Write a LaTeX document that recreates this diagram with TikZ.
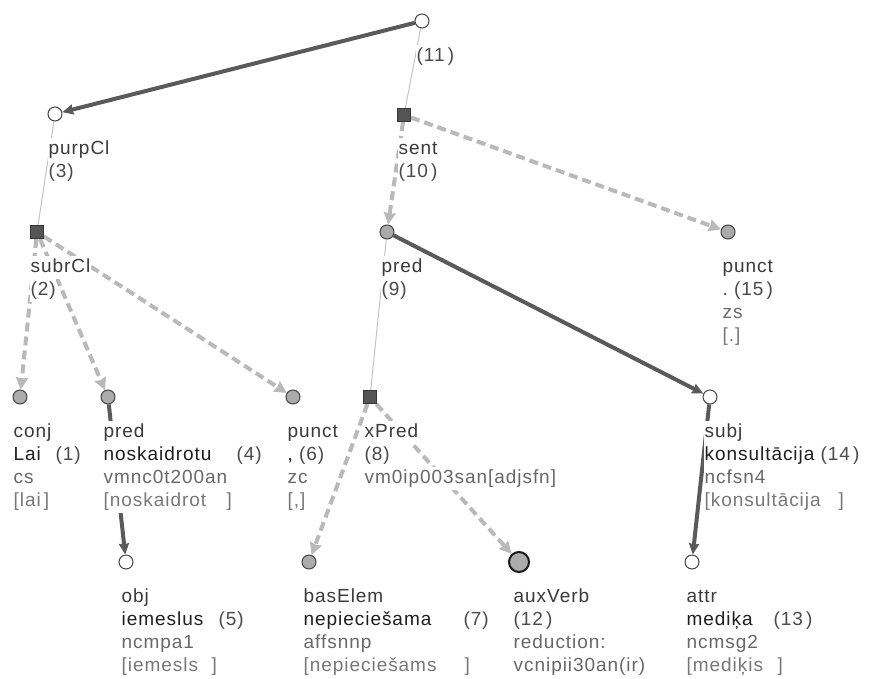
\documentclass[tikz,border=0pt]{standalone}
\usepackage{fontspec}
\setmainfont{Liberation Sans}[LetterSpace=5]
\usetikzlibrary{arrows.meta,backgrounds}
\definecolor{roleC}{HTML}{3A3A3A}
\definecolor{wordC}{HTML}{1E1E1E}
\definecolor{numC}{HTML}{4A4A4A}
\definecolor{tagC}{HTML}{686868}
\definecolor{lemC}{HTML}{787878}
\definecolor{nodeC}{HTML}{444444}
\definecolor{grayF}{HTML}{ABABAB}
\definecolor{sqF}{HTML}{555555}
\definecolor{darkE}{HTML}{5A5A5A}
\definecolor{lightE}{HTML}{B9B9B9}
\definecolor{thinE}{HTML}{C4C4C4}
\begin{document}
\begin{tikzpicture}[x=1pt,y=-1pt,
  lbl/.style={anchor=base west, fill=white, inner xsep=0.5pt, inner ysep=0pt,
    text height=16pt, text depth=7pt, font=\fontsize{19}{23}\selectfont},
  role/.style={lbl,text=roleC},
  word/.style={lbl,text=wordC},
  num/.style={lbl,text=numC},
  tag/.style={lbl,text=tagC},
  lem/.style={lbl,text=lemC},
  wnode/.style={circle,draw=nodeC,fill=white,minimum size=14pt,inner sep=0pt,line width=1pt},
  gnode/.style={wnode,fill=grayF},
  bignode/.style={circle,draw=black!90,fill=grayF,minimum size=20pt,inner sep=0pt,line width=2pt},
  snode/.style={rectangle,draw=nodeC!80!black,fill=sqF,minimum size=13pt,inner sep=0pt,line width=1pt},
  solidarrow/.style={draw=darkE,line width=4pt,-{Stealth[length=11pt,width=10pt,inset=1pt]}},
  dasharrow/.style={draw=lightE,line width=4pt,dash pattern=on 9pt off 5pt,-{Stealth[length=12pt,width=12pt,inset=1pt]}},
  plainedge/.style={draw=thinE,line width=1pt}
]
\path[use as bounding box] (0,0) rectangle (886,678);

% tree nodes
\node[wnode] (n11) at (422,21) {};
\node[wnode] (n3) at (55,114) {};
\node[snode] (n10) at (404,115) {};
\node[snode] (n2) at (37,232) {};
\node[gnode] (n9) at (387,232) {};
\node[gnode] (n15) at (728,232) {};
\node[gnode] (n1) at (20,397) {};
\node[gnode] (n4) at (108,397) {};
\node[gnode] (n6) at (293,397) {};
\node[snode] (n8) at (370,397) {};
\node[wnode] (n14) at (710,397) {};
\node[wnode] (n5) at (126,562) {};
\node[gnode] (n7) at (309,562) {};
\node[bignode] (n12) at (519,562) {};
\node[wnode] (n13) at (692,562) {};

% connectors
\begin{pgfonlayer}{background}
\draw[solidarrow] (n11) -- (n3);
\draw[plainedge] (n11) -- (n10);
\draw[dasharrow] (n10) -- (n9);
\draw[dasharrow] (n10) -- (n15);
\draw[plainedge] (n3) -- (n2);
\draw[dasharrow] (n2) -- (n1);
\draw[dasharrow] (n2) -- (n4);
\draw[dasharrow] (n2) -- (n6);
\draw[solidarrow] (n9) -- (n14);
\draw[plainedge] (n9) -- (n8);
\draw[dasharrow] (n8) -- (n7);
\draw[dasharrow] (n8) -- (n12);
\draw[solidarrow] (n4) -- (n5);
\draw[solidarrow] (n14) -- (n13);
\end{pgfonlayer}

% labels
\node[num] (t11a) at (416,61) {(11\,)};

\node[role] (t3a) at (48,154) {purpCl};
\node[num]  (t3b) at (48,177) {(3)};

\node[role] (t10a) at (398,154) {sent};
\node[num]  (t10b) at (398,177) {(10\,)};

\node[role] (t2a) at (30,272) {subrCl};
\node[num]  (t2b) at (30,295) {(2)};

\node[role] (t9a) at (381,272) {pred};
\node[num]  (t9b) at (381,295) {(9)};

\node[role] (t15a) at (722,272) {punct};
\node[num]  (t15b) at (722,295) {.\ (15\,)};
\node[tag]  (t15c) at (722,318) {zs};
\node[lem]  (t15d) at (722,341) {[.]};

\node[role] (t1a) at (13,437) {conj};
\node[word] (t1b) at (13,460) {\makebox[42pt][l]{Lai}\color{numC}(1)};
\node[tag]  (t1c) at (13,483) {cs};
\node[lem]  (t1d) at (13,506) {[lai\,]};

\node[role] (t4a) at (103,437) {pred};
\node[word] (t4b) at (103,460) {\makebox[133pt][l]{noskaidrotu}\color{numC}(4)};
\node[tag]  (t4c) at (103,483) {vmnc0t200an};
\node[lem]  (t4d) at (103,506) {\makebox[123pt][l]{[noskaidrot}]};

\node[role] (t6a) at (287,437) {punct};
\node[word] (t6b) at (287,460) {,\ \color{numC}(6)};
\node[tag]  (t6c) at (287,483) {zc};
\node[lem]  (t6d) at (287,506) {[,]};

\node[role] (t8a) at (364,437) {xPred};
\node[num]  (t8b) at (364,460) {(8)};
\node[tag]  (t8c) at (364,483) {vm0ip003san[adjsfn]};

\node[role] (t14a) at (704,437) {subj};
\node[word] (t14b) at (704,460) {\makebox[116pt][l]{konsultācija}\color{numC}(14\,)};
\node[tag]  (t14c) at (704,483) {ncfsn4};
\node[lem]  (t14d) at (704,506) {\makebox[134pt][l]{[konsultācija}]};

\node[role] (t5a) at (121,602) {obj};
\node[word] (t5b) at (121,625) {\makebox[97pt][l]{iemeslus}\color{numC}(5)};
\node[tag]  (t5c) at (121,648) {ncmpa1};
\node[lem]  (t5d) at (121,671) {\makebox[90pt][l]{[iemesls}]};

\node[role] (t7a) at (303,602) {basElem};
\node[word] (t7b) at (303,625) {\makebox[160pt][l]{nepieciešama}\color{numC}(7)};
\node[tag]  (t7c) at (303,648) {affsnnp};
\node[lem]  (t7d) at (303,671) {\makebox[161pt][l]{[nepieciešams}]};

\node[role] (t12a) at (513,602) {auxVerb};
\node[num]  (t12b) at (513,625) {(12\,)};
\node[tag]  (t12c) at (513,648) {reduction:};
\node[tag]  (t12d) at (513,671) {vcnipii30an(ir)};

\node[role] (t13a) at (686,602) {attr};
\node[word] (t13b) at (686,625) {\makebox[87pt][l]{mediķa}\color{numC}(13\,)};
\node[tag]  (t13c) at (686,648) {ncmsg2};
\node[lem]  (t13d) at (686,671) {\makebox[91pt][l]{[mediķis}]};
\end{tikzpicture}
\end{document}
